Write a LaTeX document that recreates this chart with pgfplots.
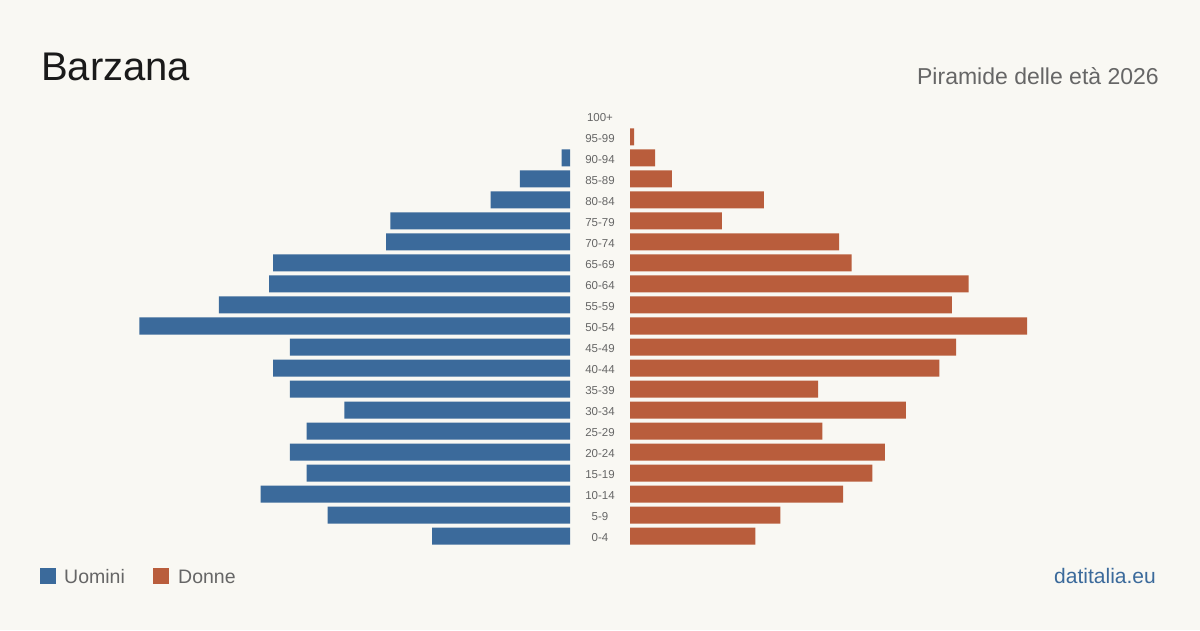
\documentclass[border=0pt]{standalone}
\usepackage{pgfplots}
\pgfplotsset{compat=1.18}
\usepackage{fontspec}
\setmainfont{Liberation Sans}
\definecolor{bg}{HTML}{F9F8F3}
\definecolor{men}{HTML}{3B6A9B}
\definecolor{women}{HTML}{B95D3C}
\definecolor{lab}{HTML}{666666}
\definecolor{ttl}{HTML}{1A1A1A}
\begin{document}
\begin{tikzpicture}[x=1pt,y=1pt]
\fill[bg] (0,0) rectangle (1200,630);
% Men (left)
\begin{axis}[
  at={(570pt,83.5pt)}, anchor=south east,
  scale only axis, width=459.8pt, height=441pt,
  x dir=reverse, xmin=0, xmax=110,
  ymin=-0.5, ymax=20.5,
  hide axis, xbar, bar width=17pt,
]
\addplot[fill=men, draw=none] coordinates {
(33,0) (58,1) (74,2) (63,3) (67,4) (63,5) (54,6) (67,7) (71,8) (67,9)
(103,10) (84,11) (72,12) (71,13) (44,14) (43,15) (19,16) (12,17) (2,18)};
\end{axis}
% Women (right)
\begin{axis}[
  at={(630pt,83.5pt)}, anchor=south west,
  scale only axis, width=459.8pt, height=441pt,
  xmin=0, xmax=110,
  ymin=-0.5, ymax=20.5,
  hide x axis, axis y line*=left, y axis line style={draw=none},
  major tick length=0pt,
  ytick={0,...,20},
  yticklabels={0-4,5-9,10-14,15-19,20-24,25-29,30-34,35-39,40-44,45-49,50-54,55-59,60-64,65-69,70-74,75-79,80-84,85-89,90-94,95-99,100+},
  yticklabel style={anchor=center, xshift=-30pt, yshift=-1.5pt, font=\fontsize{11.5}{12}\selectfont, text=lab},
  xbar, bar width=17pt,
]
\addplot[fill=women, draw=none] coordinates {
(30,0) (36,1) (51,2) (58,3) (61,4) (46,5) (66,6) (45,7) (74,8) (78,9)
(95,10) (77,11) (81,12) (53,13) (50,14) (22,15) (32,16) (10,17) (6,18) (1,19)};
\end{axis}
\node[anchor=base west, inner sep=0, text=ttl, font=\fontsize{40}{44}\selectfont] at (41,549) {Barzana};
\node[anchor=base east, inner sep=0, text=lab, font=\fontsize{23}{24}\selectfont] at (1159,545) {Piramide delle età 2026};
\fill[men] (40,46) rectangle (56,62);
\node[anchor=base west, inner sep=0, text=lab, font=\fontsize{19.5}{20}\selectfont] at (64,47) {Uomini};
\fill[women] (153,46) rectangle (169,62);
\node[anchor=base west, inner sep=0, text=lab, font=\fontsize{19.5}{20}\selectfont] at (178,47) {Donne};
\node[anchor=base east, inner sep=0, text=men, font=\fontsize{21}{22}\selectfont] at (1156,47) {datitalia.eu};
\end{tikzpicture}
\end{document}
